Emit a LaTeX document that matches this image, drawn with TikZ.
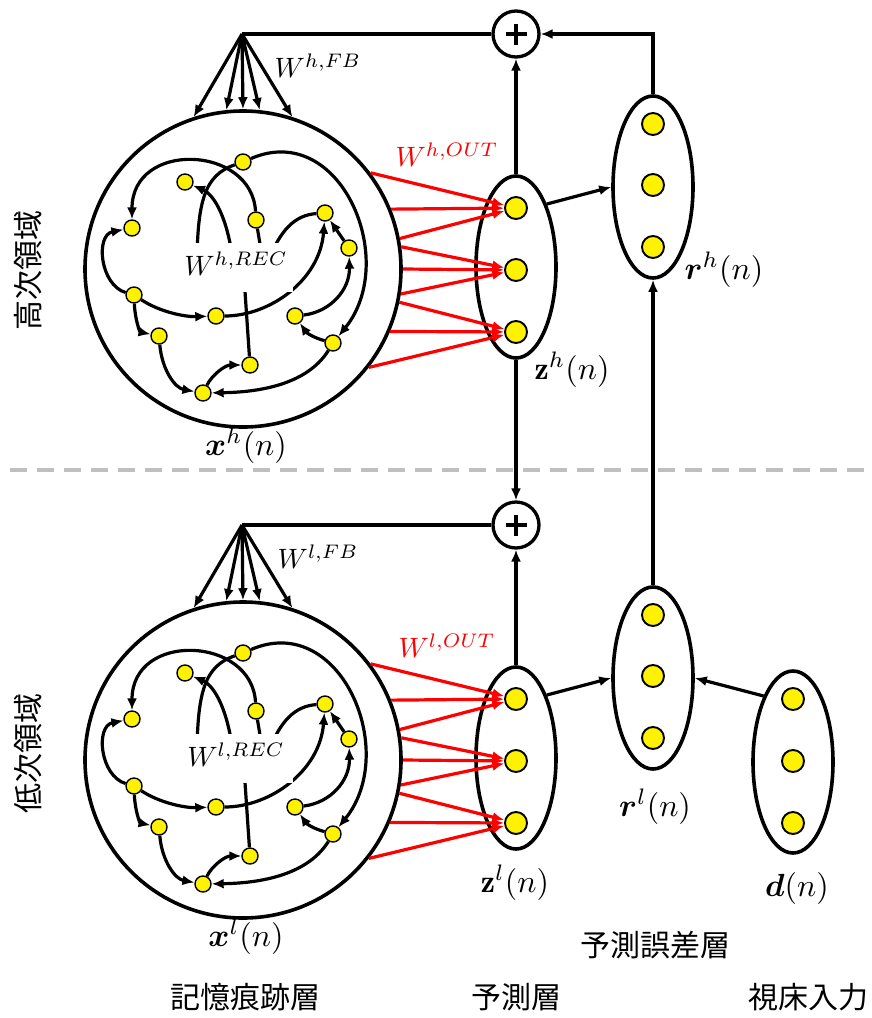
\documentclass[tikz,border=0pt]{standalone}
\usepackage{graphicx}
\usepackage{amsmath,bm}
\usepackage{fontspec}
\newfontfamily\cjk{Noto Sans CJK JP}
\usetikzlibrary{shapes.geometric,arrows.meta}
\newcommand\MLab[1]{\scalebox{2.8}{#1}}
\newcommand\VLab[1]{\scalebox{3.2}{#1}}

\tikzset{
  rdot/.style={circle, fill=yellow, draw=black, line width=1.4pt, minimum size=16pt, inner sep=0pt},
  bdot/.style={circle, fill=yellow, draw=black, line width=1.9pt, minimum size=22pt, inner sep=0pt},
  grp/.style={ellipse, draw, line width=3.6pt, minimum width=80pt, minimum height=182pt, inner sep=0pt},
  res/.style={circle, draw, line width=3.6pt, minimum size=316pt, inner sep=0pt},
  sumnode/.style={circle, draw, line width=3.3pt, minimum size=46pt, inner sep=0pt, fill=white},
  redge/.style={line width=3.2pt, -{Latex[length=12pt,width=10pt]}},
  pline/.style={line width=3.2pt},
  conn/.style={line width=3.2pt, -{Latex[length=12pt,width=10pt]}},
  redarrow/.style={red, line width=3.2pt, -{Latex[length=12pt,width=10pt]}},
  lab/.style={inner sep=0pt},
  jlab/.style={font=\cjk\fontsize{30}{34}\selectfont, inner sep=0pt},
  wbox/.style={fill=white, minimum width=105pt, minimum height=49pt, inner sep=0pt},
  dashline/.style={line width=4pt, draw=black!25, dash pattern=on 17pt off 10pt},
}

\newcommand\Level[3]{%
\begin{scope}[yshift=#2]
  % reservoir
  \node[res] (#1-res) at (243,-269) {};
  \node[rdot] (#1-A) at (243,-162) {};
  \node[rdot] (#1-B) at (185,-182) {};
  \node[rdot] (#1-C) at (256,-220) {};
  \node[rdot] (#1-D) at (325,-213) {};
  \node[rdot] (#1-E) at (132,-228) {};
  \node[rdot] (#1-F) at (349,-248) {};
  \node[rdot] (#1-G) at (134,-295) {};
  \node[rdot] (#1-H) at (216,-316) {};
  \node[rdot] (#1-I) at (295,-316) {};
  \node[rdot] (#1-J) at (159,-336) {};
  \node[rdot] (#1-K) at (333,-343) {};
  \node[rdot] (#1-L) at (250,-365) {};
  \node[rdot] (#1-M) at (203,-393) {};
  \coordinate (#1-h1) at (197,-268);
  \coordinate (#1-h2) at (233,-262);
  \coordinate (#1-h3) at (263,-262);
  \coordinate (#1-h4) at (268,-262);
  \coordinate (#1-h5) at (243,-262);
  \draw[redge] (#1-A) .. controls (340,-120) and (400,-260) .. (#1-K);
  \draw[redge] (#1-C) .. controls (252,-145) and (132,-140) .. (#1-E);
  \draw[redge] (#1-h2) .. controls (228,-220) and (215,-195) .. (#1-B);
  \draw[pline] (#1-A) .. controls (205,-175) and (197,-200) .. (#1-h1);
  \draw[pline] (#1-C) -- (#1-h3);
  \draw[pline] (#1-D) .. controls (295,-215) and (280,-230) .. (#1-h4);
  \draw[pline] (#1-h5) -- (#1-L);
  \draw[redge] (#1-G) .. controls (100,-285) and (95,-235) .. (#1-E);
  \draw[redge] (#1-G) .. controls (160,-312) and (185,-317) .. (#1-H);
  \draw[redge] (#1-H) .. controls (270,-316) and (320,-280) .. (#1-D);
  \draw[redge] (#1-G) .. controls (135,-320) and (140,-332) .. (#1-J);
  \draw[redge] (#1-J) .. controls (162,-370) and (175,-388) .. (#1-M);
  \draw[redge] (#1-M) .. controls (212,-375) and (225,-365) .. (#1-L);
  \draw[redge] (#1-K) .. controls (310,-380) and (270,-392) .. (#1-M);
  \draw[redge] (#1-K) to[bend left=20] (#1-I);
  \draw[redge] (#1-I) .. controls (330,-312) and (350,-290) .. (#1-F);
  \draw[redge] (#1-F) -- (#1-D);
  \node[wbox] (#1-wbox) at (240,-267) {};
  \node[lab] (#1-wrec) at (236,-264) {\MLab{$W^{#3,REC}$}};
  % feedback fan
  \coordinate (#1-apex) at (242,-34);
  \foreach \a in {108,96,90,84,72}{\draw[conn] (#1-apex) -- (#1-res.\a);}
  \node[lab] (#1-wfb) at (318,-66) {\MLab{$W^{#3,FB}$}};
  % sum node
  \node[sumnode] (#1-plus) at (516,-34) {};
  \draw[line width=3.3pt] ([xshift=-10.5pt]#1-plus.center) -- ([xshift=10.5pt]#1-plus.center);
  \draw[line width=3.3pt] ([yshift=-10.5pt]#1-plus.center) -- ([yshift=10.5pt]#1-plus.center);
  \draw[pline] (#1-apex) -- (#1-plus);
  % prediction layer
  \node[grp] (#1-z) at (516,-267) {};
  \node[bdot] (#1-z1) at (516,-208) {};
  \node[bdot] (#1-z2) at (516,-270) {};
  \node[bdot] (#1-z3) at (516,-332) {};
  \foreach \a in {37,22,11}{\draw[redarrow] (#1-res.\a) -- (#1-z1);}
  \foreach \a in {8,0,-9}{\draw[redarrow] (#1-res.\a) -- (#1-z2);}
  \foreach \a in {-12,-23,-38}{\draw[redarrow] (#1-res.\a) -- (#1-z3);}
  \node[lab, text=red] (#1-wout) at (447,-155) {\MLab{$W^{#3,OUT}$}};
  \draw[conn] (#1-z.north) -- (#1-plus);
  % error layer
  \node[grp] (#1-r) at (653,-187) {};
  \node[bdot] (#1-r1) at (653,-124) {};
  \node[bdot] (#1-r2) at (653,-185) {};
  \node[bdot] (#1-r3) at (653,-247) {};
  \draw[conn] (#1-z.64) -- (#1-r.west);
  % state label
  \node[lab] (#1-xlab) at (246,-446) {\VLab{$\bm{x}^{#3}(n)$}};
\end{scope}}

\begin{document}
\begin{tikzpicture}[x=1pt,y=1pt]
\useasboundingbox (0,0) rectangle (872,-1018);
\coordinate (dashL) at (10,-470);
\coordinate (dashR) at (872,-470);
\draw[dashline] (dashL) -- (dashR);

\Level{h}{0pt}{h}
\Level{l}{-491pt}{l}

% input layer
\node[grp] (l-d) at (793,-762) {};
\node[bdot] (l-d1) at (793,-699) {};
\node[bdot] (l-d2) at (793,-761) {};
\node[bdot] (l-d3) at (793,-823) {};

% inter-level connectors
\draw[conn] (h-r.north) |- (h-plus);
\draw[conn] (h-z.south) -- (l-plus);
\draw[conn] (l-r.north) -- (h-r.south);
\draw[conn] (l-d.114) -- (l-r.east);

% labels
\node[lab] (zh) at (572,-370) {\VLab{$\mathbf{z}^{h}(n)$}};
\node[lab] (rh) at (724,-270) {\VLab{$\bm{r}^{h}(n)$}};
\node[lab] (zl) at (515,-883) {\VLab{$\mathbf{z}^{l}(n)$}};
\node[lab] (rl) at (655,-807) {\VLab{$\bm{r}^{l}(n)$}};
\node[lab] (dn) at (797,-888) {\VLab{$\bm{d}(n)$}};

\node[jlab, rotate=90] (hi) at (28,-270) {高次領域};
\node[jlab, rotate=90] (lo) at (28,-753) {低次領域};
\node[jlab] (err) at (655,-945) {予測誤差層};
\node[jlab] (mem) at (245,-997) {記憶痕跡層};
\node[jlab] (pred) at (516,-997) {予測層};
\node[jlab] (thal) at (808,-997) {視床入力};
\end{tikzpicture}
\end{document}
